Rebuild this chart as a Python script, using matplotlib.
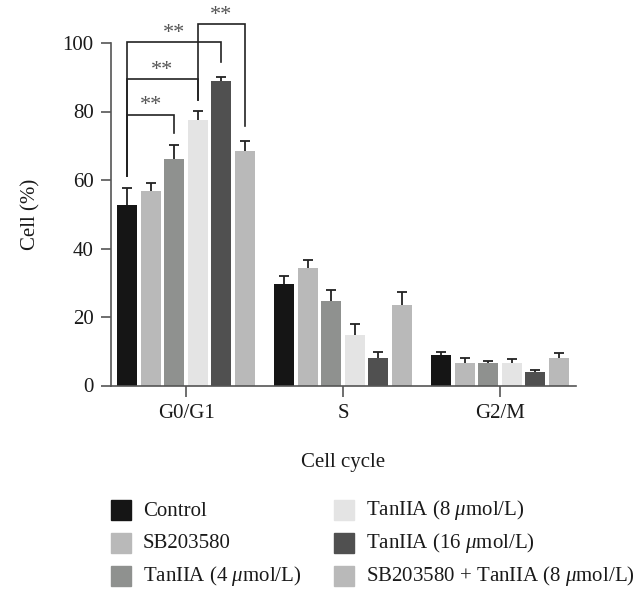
import numpy as np
import matplotlib
matplotlib.use("Agg")
import matplotlib.pyplot as plt
from matplotlib.patches import Rectangle

plt.rcParams['font.family'] = ['Liberation Serif', 'DejaVu Serif']
plt.rcParams['mathtext.fontset'] = 'custom'
plt.rcParams['mathtext.rm'] = 'Liberation Serif'
plt.rcParams['mathtext.it'] = 'Liberation Serif:italic'

# ---- data ----
phases = ["G0/G1", "S", "G2/M"]
groups = ["Control", "SB203580", r"TanIIA (4 $\mu$mol/L)",
          r"TanIIA (8 $\mu$mol/L)", r"TanIIA (16 $\mu$mol/L)",
          r"SB203580 + TanIIA (8 $\mu$mol/L)"]
control = [52.8, 29.7, 8.9]
sb203580 = [56.9, 34.4, 6.6]
tan4 = [66.2, 24.7, 6.6]
tan8 = [77.5, 14.8, 6.6]
tan16 = [88.9, 8.0, 3.9]
sb_tan8 = [68.5, 23.5, 8.0]
control_err = [4.8, 2.3, 0.9]
sb203580_err = [2.2, 2.1, 1.4]
tan4_err = [4.0, 3.2, 0.6]
tan8_err = [2.7, 3.3, 1.2]
tan16_err = [1.3, 1.7, 0.7]
sb_tan8_err = [2.8, 3.9, 1.6]
colors = ["#151515", "#b9b9b9", "#8f918f", "#e4e4e4", "#505050", "#b9b9b9"]

# significance brackets in G0/G1: (bar i, bar j, top, left leg bottom, right leg bottom)
br_left = [0, 0, 0, 3]
br_right = [2, 3, 4, 5]
br_top = [79.1, 89.5, 100.2, 105.5]
br_lbot = [61.3, 61.3, 61.3, 83.5]
br_rbot = [73.7, 83.5, 94.5, 75.7]
br_label = ["**", "**", "**", "**"]

values = [control, sb203580, tan4, tan8, tan16, sb_tan8]
errors = [control_err, sb203580_err, tan4_err, tan8_err, tan16_err, sb_tan8_err]

W, H = 642, 590
fig = plt.figure(figsize=(W/100, H/100), dpi=100)
ax = fig.add_axes([111/W, 1-385.5/H, (576-111)/W, (385.5-43)/H])

x = np.arange(len(phases))
pitch = 0.150
width = 0.127
for i, (vals, errs, c) in enumerate(zip(values, errors, colors)):
    pos = x + (i - 2.5) * pitch
    ax.bar(pos, vals, width, color=c, label=groups[i], zorder=2)
    _, caps, _ = ax.errorbar(pos, vals, yerr=[np.zeros(len(errs)), errs], fmt='none',
                             ecolor='#222222', elinewidth=1.3, capsize=3.4,
                             capthick=1.3, zorder=3)
    caps[0].set_visible(False)

def bar_x(i, g=0):
    return x[g] + (i - 2.5) * pitch

for l, r, t, lb, rb, lab in zip(br_left, br_right, br_top, br_lbot, br_rbot, br_label):
    xl, xr = bar_x(l), bar_x(r)
    ax.plot([xl, xl, xr, xr], [lb, t, t, rb], color='#222222', lw=1.2,
            clip_on=False, zorder=4, solid_joinstyle='miter')
    ax.text((xl + xr) / 2, t + 1.2, lab, ha='center', va='baseline',
            fontsize=16, color='#555555', clip_on=False)

ax.set_xlim(-0.478, 2.484)
ax.set_ylim(0, 100)
ax.set_yticks([0, 20, 40, 60, 80, 100])
ax.set_xticks(x)
ax.set_xticklabels(phases)
for s in ['top', 'right']:
    ax.spines[s].set_visible(False)
for s in ['left', 'bottom']:
    ax.spines[s].set_color('#555555')
    ax.spines[s].set_linewidth(1.2)
ax.tick_params(axis='both', colors='#555555', width=1.2, labelsize=15, labelcolor='#1a1a1a')
ax.tick_params(axis='y', length=7.5, pad=5)
ax.tick_params(axis='x', length=8, pad=5)
ax.set_ylabel("Cell (%)", fontsize=15, color='#1a1a1a', labelpad=16)
ax.set_xlabel("Cell cycle", fontsize=15, color='#1a1a1a', labelpad=22)

# legend (two columns, column-wise fill)
col_x = [111, 334]
row_y = [510, 542.7, 575.5]
for k, (lab, c) in enumerate(zip(groups, colors)):
    cx = col_x[k // 3]
    cy = row_y[k % 3]
    fig.add_artist(Rectangle((cx/W, 1-(cy+10)/H), 20/W, 20/H, color=c,
                             transform=fig.transFigure))
    fig.text((cx+32)/W, 1-(cy+5.5)/H, lab, fontsize=15, color='#1a1a1a',
             ha='left', va='baseline')

fig.savefig("out.png", dpi=100)
